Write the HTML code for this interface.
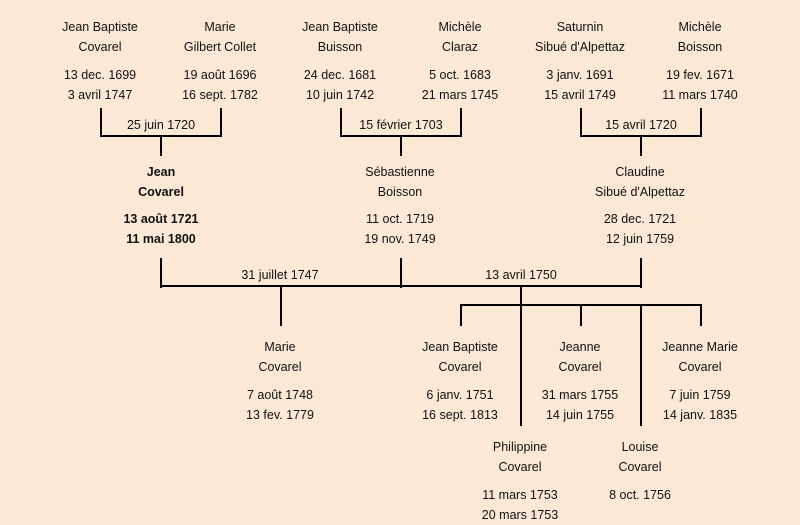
<!DOCTYPE html>
<html><head><meta charset="utf-8"><style>
body{margin:0;width:800px;height:521px;background:#fbe9d6;position:relative;overflow:hidden;font-family:"Comic Sans MS","Liberation Sans",sans-serif;font-size:12.5px;color:#111}
.t{position:absolute;width:160px;text-align:center;line-height:20px;white-space:nowrap}
.b{font-weight:bold}
.l{position:absolute;background:#000}
.lb{position:absolute;width:160px;text-align:center;line-height:16px}
</style></head><body>
<!-- gen 1 -->
<div class="t" style="left:20px;top:17px">Jean Baptiste<br>Covarel</div>
<div class="t" style="left:20px;top:65px">13 dec. 1699<br>3 avril 1747</div>
<div class="t" style="left:140px;top:17px">Marie<br>Gilbert Collet</div>
<div class="t" style="left:140px;top:65px">19 août 1696<br>16 sept. 1782</div>
<div class="t" style="left:260px;top:17px">Jean Baptiste<br>Buisson</div>
<div class="t" style="left:260px;top:65px">24 dec. 1681<br>10 juin 1742</div>
<div class="t" style="left:380px;top:17px">Michèle<br>Claraz</div>
<div class="t" style="left:380px;top:65px">5 oct. 1683<br>21 mars 1745</div>
<div class="t" style="left:500px;top:17px">Saturnin<br>Sibué d'Alpettaz</div>
<div class="t" style="left:500px;top:65px">3 janv. 1691<br>15 avril 1749</div>
<div class="t" style="left:620px;top:17px">Michèle<br>Boisson</div>
<div class="t" style="left:620px;top:65px">19 fev. 1671<br>11 mars 1740</div>
<!-- brackets gen1 -->
<div class="l" style="left:100px;top:108px;width:2px;height:29px"></div>
<div class="l" style="left:220px;top:108px;width:2px;height:29px"></div>
<div class="l" style="left:100px;top:135px;width:122px;height:2px"></div>
<div class="l" style="left:160px;top:135px;width:2px;height:21px"></div>
<div class="lb" style="left:81px;top:117px">25 juin 1720</div>
<div class="l" style="left:340px;top:108px;width:2px;height:29px"></div>
<div class="l" style="left:460px;top:108px;width:2px;height:29px"></div>
<div class="l" style="left:340px;top:135px;width:122px;height:2px"></div>
<div class="l" style="left:400px;top:135px;width:2px;height:21px"></div>
<div class="lb" style="left:321px;top:117px">15 février 1703</div>
<div class="l" style="left:580px;top:108px;width:2px;height:29px"></div>
<div class="l" style="left:700px;top:108px;width:2px;height:29px"></div>
<div class="l" style="left:580px;top:135px;width:122px;height:2px"></div>
<div class="l" style="left:640px;top:135px;width:2px;height:21px"></div>
<div class="lb" style="left:561px;top:117px">15 avril 1720</div>
<!-- gen 2 -->
<div class="t b" style="left:81px;top:162px">Jean<br>Covarel</div>
<div class="t b" style="left:81px;top:209px">13 août 1721<br>11 mai 1800</div>
<div class="t" style="left:320px;top:162px">Sébastienne<br>Boisson</div>
<div class="t" style="left:320px;top:209px">11 oct. 1719<br>19 nov. 1749</div>
<div class="t" style="left:560px;top:162px">Claudine<br>Sibué d'Alpettaz</div>
<div class="t" style="left:560px;top:209px">28 dec. 1721<br>12 juin 1759</div>
<div class="l" style="left:160px;top:258px;width:2px;height:30px"></div>
<div class="l" style="left:400px;top:258px;width:2px;height:30px"></div>
<div class="l" style="left:640px;top:258px;width:2px;height:30px"></div>
<div class="l" style="left:160px;top:285px;width:482px;height:2px"></div>
<div class="lb" style="left:200px;top:267px">31 juillet 1747</div>
<div class="lb" style="left:441px;top:267px">13 avril 1750</div>
<div class="l" style="left:280px;top:285px;width:2px;height:41px"></div>
<div class="l" style="left:520px;top:285px;width:2px;height:141px"></div>
<div class="l" style="left:460px;top:304px;width:242px;height:2px"></div>
<div class="l" style="left:460px;top:304px;width:2px;height:22px"></div>
<div class="l" style="left:580px;top:304px;width:2px;height:22px"></div>
<div class="l" style="left:700px;top:304px;width:2px;height:22px"></div>
<div class="l" style="left:640px;top:304px;width:2px;height:122px"></div>
<!-- gen 3 -->
<div class="t" style="left:200px;top:337px">Marie<br>Covarel</div>
<div class="t" style="left:200px;top:385px">7 août 1748<br>13 fev. 1779</div>
<div class="t" style="left:380px;top:337px">Jean Baptiste<br>Covarel</div>
<div class="t" style="left:380px;top:385px">6 janv. 1751<br>16 sept. 1813</div>
<div class="t" style="left:500px;top:337px">Jeanne<br>Covarel</div>
<div class="t" style="left:500px;top:385px">31 mars 1755<br>14 juin 1755</div>
<div class="t" style="left:620px;top:337px">Jeanne Marie<br>Covarel</div>
<div class="t" style="left:620px;top:385px">7 juin 1759<br>14 janv. 1835</div>
<div class="t" style="left:440px;top:437px">Philippine<br>Covarel</div>
<div class="t" style="left:440px;top:485px">11 mars 1753<br>20 mars 1753</div>
<div class="t" style="left:560px;top:437px">Louise<br>Covarel</div>
<div class="t" style="left:560px;top:485px">8 oct. 1756</div>
</body></html>
